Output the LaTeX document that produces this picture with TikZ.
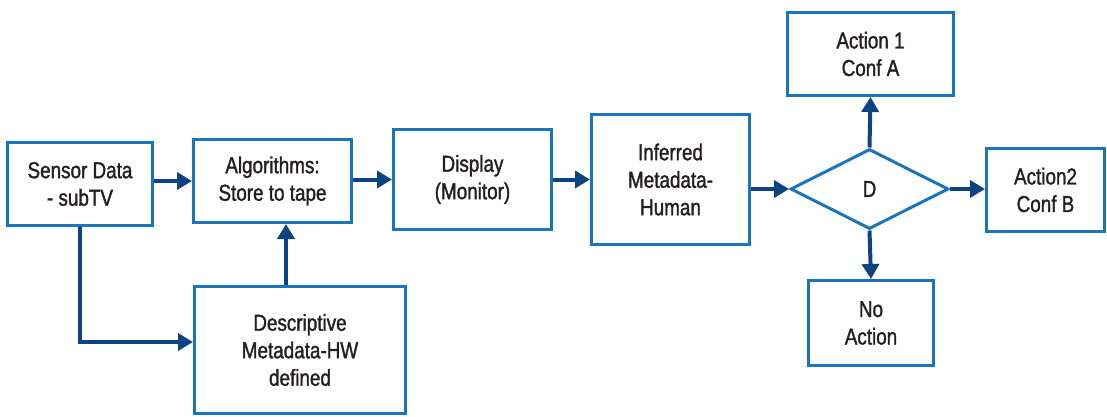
\documentclass[tikz,border=0pt]{standalone}
\usepackage{fontspec}
\setmainfont{Liberation Sans}[FakeStretch=0.82,FakeBold=1.4]
\usetikzlibrary{arrows.meta,shapes.geometric}
\definecolor{boxblue}{HTML}{1B75BC}
\definecolor{arrownavy}{HTML}{0D4380}
\definecolor{txt}{HTML}{231F20}
\tikzset{
  box/.style={draw=boxblue, line width=3pt, fill=white, align=center, inner sep=0pt,
    text=txt, font=\fontsize{23}{27.5}\selectfont},
  dec/.style={box, shape=diamond, minimum width=158pt, minimum height=80pt},
  conn/.style={draw=arrownavy, line width=4pt, -{Triangle[length=15pt,width=17pt]}},
}
\begin{document}
\begin{tikzpicture}[x=1pt,y=-1pt]
\useasboundingbox (0,0) rectangle (1107,417);
\node[box, minimum width=145pt, minimum height=83pt] (sensor) at (80,184) {Sensor Data\\- subTV};
\node[box, minimum width=158pt, minimum height=83pt] (alg) at (272.5,181) {Algorithms:\\Store to tape};
\node[box, minimum width=158pt, minimum height=100pt] (disp) at (472.5,179.5) {Display\\(Monitor)};
\node[box, minimum width=158pt, minimum height=130pt] (inf) at (670.5,179.5) {Inferred\\Metadata-\\Human};
\node[box, minimum width=211pt, minimum height=127pt] (desc) at (300,350) {Descriptive\\Metadata-HW\\defined};
\node[dec] (d) at (869.5,189) {D};
\node[box, minimum width=166pt, minimum height=83pt] (a1) at (870.5,54) {Action 1\\Conf A};
\node[box, minimum width=118pt, minimum height=83pt] (a2) at (1045.5,190) {Action2\\Conf B};
\node[box, minimum width=125pt, minimum height=85pt] (no) at (871,323) {No\\Action};

\coordinate (dw) at ([yshift=8pt]desc.west);
\draw[conn] (sensor.east |- alg.west) -- (alg.west);
\draw[conn] (alg.east |- disp.west) -- (disp.west);
\draw[conn] (disp.east) -- (disp.east -| inf.west);
\draw[conn] (inf.east |- d.west) -- (d.west);
\draw[conn] (d.east) -- (d.east -| a2.west);
\draw[conn] (d.north) -- (a1.south);
\draw[conn] (d.south) -- (no.north);
\draw[conn] (sensor.south) |- (dw);
\draw[conn] ([xshift=-14pt]desc.north) -- ([xshift=-14pt]desc.north |- alg.south);
\end{tikzpicture}
\end{document}
